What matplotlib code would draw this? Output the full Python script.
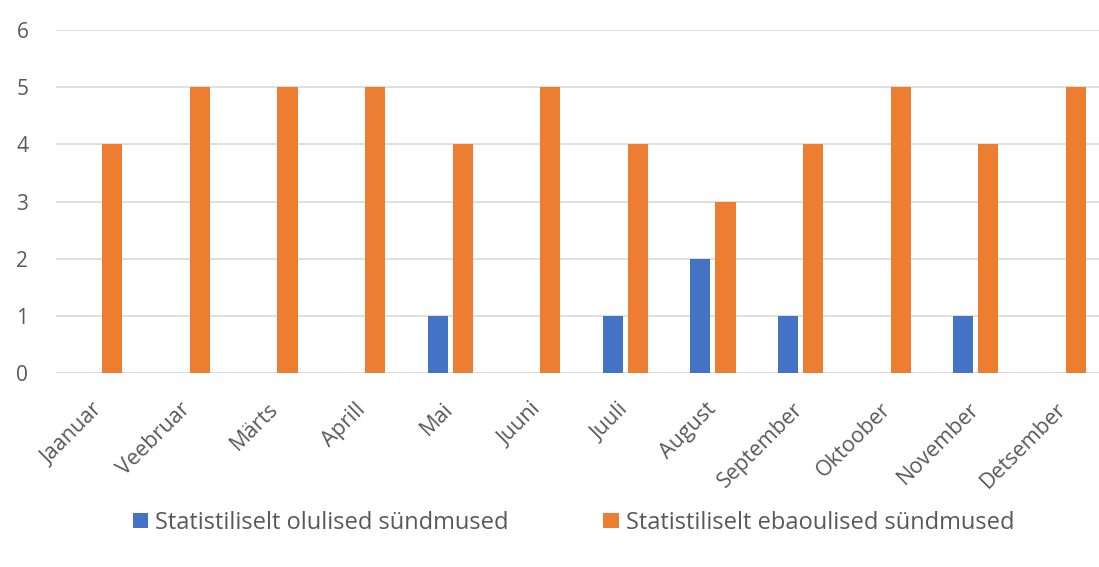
import numpy as np
import matplotlib.pyplot as plt

plt.rcParams['font.family'] = ['Open Sans', 'DejaVu Sans']

# Monthly event counts
months = ["Jaanuar", "Veebruar", "Märts", "Aprill", "Mai", "Juuni",
          "Juuli", "August", "September", "Oktoober", "November", "Detsember"]
significant = [0, 0, 0, 0, 1, 0, 1, 2, 1, 0, 1, 0]
insignificant = [4, 5, 5, 5, 4, 5, 4, 3, 4, 5, 4, 5]

blue = "#4472C4"
orange = "#ED7D31"
text_col = "#595959"

fig = plt.figure(figsize=(10.99, 5.67), dpi=100)
ax = fig.add_axes([0.051, 0.342, 0.9563, 0.605])

x = np.arange(len(months))
w = 0.23
off = 0.143
ax.bar(x - off, significant, w, color=blue, label="Statistiliselt olulised sündmused", zorder=3)
ax.bar(x + off, insignificant, w, color=orange, label="Statistiliselt ebaoulised sündmused", zorder=3)

ax.set_xlim(-0.5, len(months) - 0.5)
ax.set_ylim(0, 6)
ax.set_yticks(range(0, 7))
ax.yaxis.grid(True, color="#d9d9d9", linewidth=1.2, zorder=0)
for s in ax.spines.values():
    s.set_visible(False)
ax.axhline(0, color="#d9d9d9", linewidth=1.2, zorder=1)

ax.tick_params(axis="both", length=0, colors=text_col)
ax.tick_params(axis="y", pad=20, labelsize=15)
ax.tick_params(axis="x", pad=24, labelsize=15.5)
ax.set_xticks(x)
ax.set_xticklabels(months, rotation=45, ha="right", va="center", rotation_mode="anchor")

fig.legend(loc="center", bbox_to_anchor=(0.522, 0.078), ncol=2, frameon=False,
           fontsize=17, handlelength=0.65, handleheight=0.65, columnspacing=4.0,
           handletextpad=0.3, labelcolor=text_col)

fig.savefig("out.png", dpi=100)
